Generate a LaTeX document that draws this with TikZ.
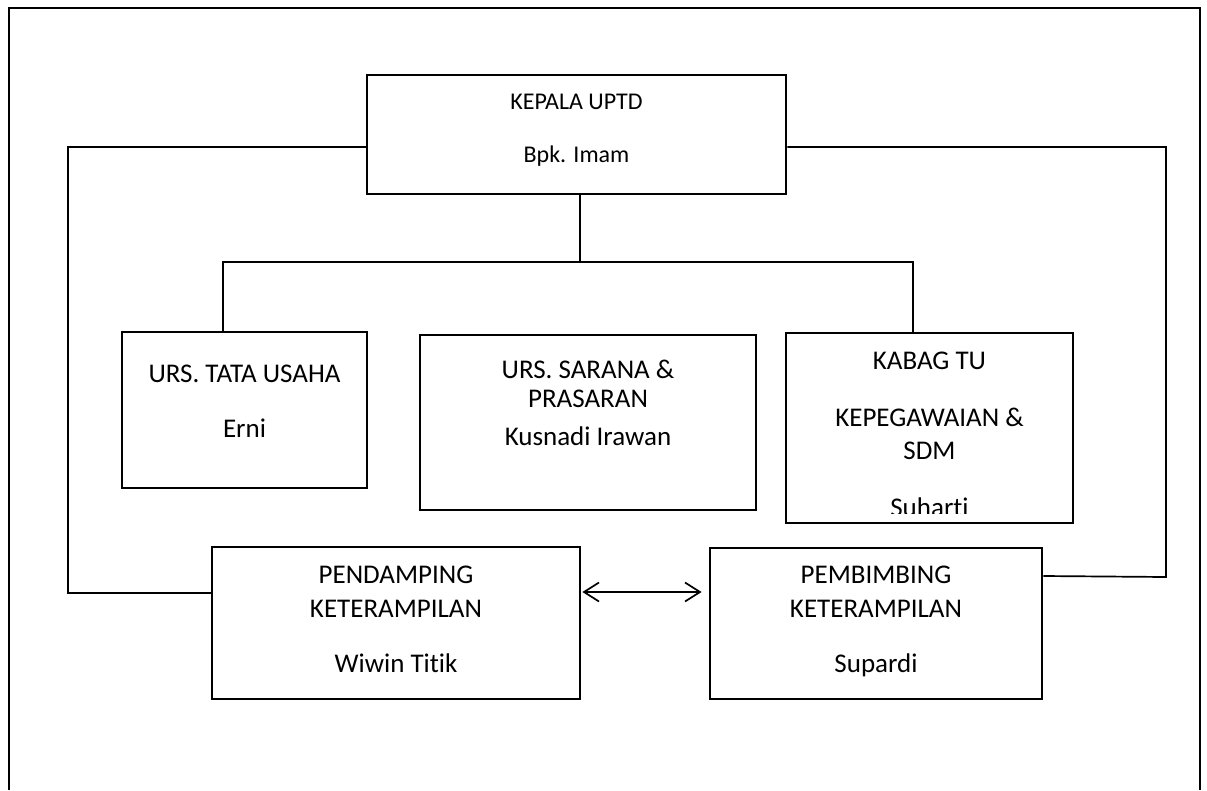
\documentclass[tikz,border=0pt]{standalone}
\usepackage{fontspec}
\setmainfont{Carlito}[Ligatures=NoCommon]
\usetikzlibrary{arrows.meta}
\begin{document}
\begin{tikzpicture}[x=1pt,y=-1pt,
  orgbox/.style={draw=black, line width=2.8pt, rectangle, inner sep=0pt},
  lbl/.style={anchor=base, inner sep=0pt, font=\fontsize{27}{32}\selectfont, text=black},
  lblsmall/.style={lbl, font=\fontsize{24}{29}\selectfont},
  conn/.style={draw=black, line width=1.7pt},
  frame/.style={draw=black, line width=2.9pt},
  dblarrow/.style={draw=black, line width=1.7pt, {Straight Barb[length=15pt,width=19pt,line width=1.7pt]}-{Straight Barb[length=15pt,width=19pt,line width=1.7pt]}}]
\useasboundingbox (0,0) rectangle (1207,790);
\fill[white] (0,0) rectangle (1207,790);
% outer frame (open at the bottom)
\draw[frame] (9,790) -- (9,8) -- (1200,8) -- (1200,790);

% boxes
\node[orgbox, minimum width=419pt, minimum height=119pt] (kepala) at (576.5,134.5) {};
\node[orgbox, minimum width=245pt, minimum height=156pt] (tata) at (244.5,410) {};
\node[orgbox, minimum width=336pt, minimum height=175pt] (sarana) at (588,422.5) {};
\node[orgbox, minimum width=287pt, minimum height=190pt] (kabag) at (929.5,428) {};
\node[orgbox, minimum width=368pt, minimum height=152pt] (pend) at (396,623) {};
\node[orgbox, minimum width=332pt, minimum height=151pt] (pemb) at (876,623.5) {};

% texts
\node[lblsmall] (kepalaA) at (576.5,109) {KEPALA UPTD};
\node[lblsmall] (kepalaB) at (576.5,162) {Bpk. Imam};
\node[lbl] (tataA) at (244.5,382) {URS. TATA USAHA};
\node[lbl] (tataB) at (244.5,437) {Erni};
\node[lbl] (saranaA) at (588,378) {URS. SARANA \&};
\node[lbl] (saranaB) at (588,407) {PRASARAN};
\node[lbl] (saranaC) at (588,445) {Kusnadi Irawan};
\node[lbl] (kabagA) at (929.5,369) {KABAG TU};
\node[lbl] (kabagB) at (929.5,426) {KEPEGAWAIAN \&};
\node[lbl] (kabagC) at (929.5,459) {SDM};
\begin{scope}
  \clip (787,334) rectangle (1072,513.5);
  \node[lbl] (kabagD) at (929.5,516) {Suharti};
\end{scope}
\node[lbl] (pendA) at (396,583) {PENDAMPING};
\node[lbl] (pendB) at (396,617) {KETERAMPILAN};
\node[lbl] (pendC) at (396,672) {Wiwin Titik};
\node[lbl] (pembA) at (876,583) {PEMBIMBING};
\node[lbl] (pembB) at (876,617) {KETERAMPILAN};
\node[lbl] (pembC) at (876,672) {Supardi};

% routing points
\coordinate (tj) at (580,262);
\coordinate (tl) at (223,262);
\coordinate (tr) at (913,262);
\coordinate (lc1) at (68,147);
\coordinate (lc2) at (68,593);
\coordinate (rc1) at (1166,147);
\coordinate (rc2) at (1166,577);
\coordinate (ay) at (640,592);

% connectors
\draw[conn] (kepala.south -| tj) -- (tj);
\draw[conn] (tata.north -| tl) -- (tl) -- (tr) -- (kabag.north -| tr);
\draw[conn] (kepala.west |- lc1) -- (lc1) -- (lc2) -- (pend.west |- lc2);
\draw[conn] (kepala.east |- rc1) -- (rc1) -- (rc2) -- ([yshift=1pt]pemb.east |- rc2);
\draw[dblarrow] ([xshift=1pt]pend.east |- ay) -- ([xshift=-7pt]pemb.west |- ay);
\end{tikzpicture}
\end{document}
